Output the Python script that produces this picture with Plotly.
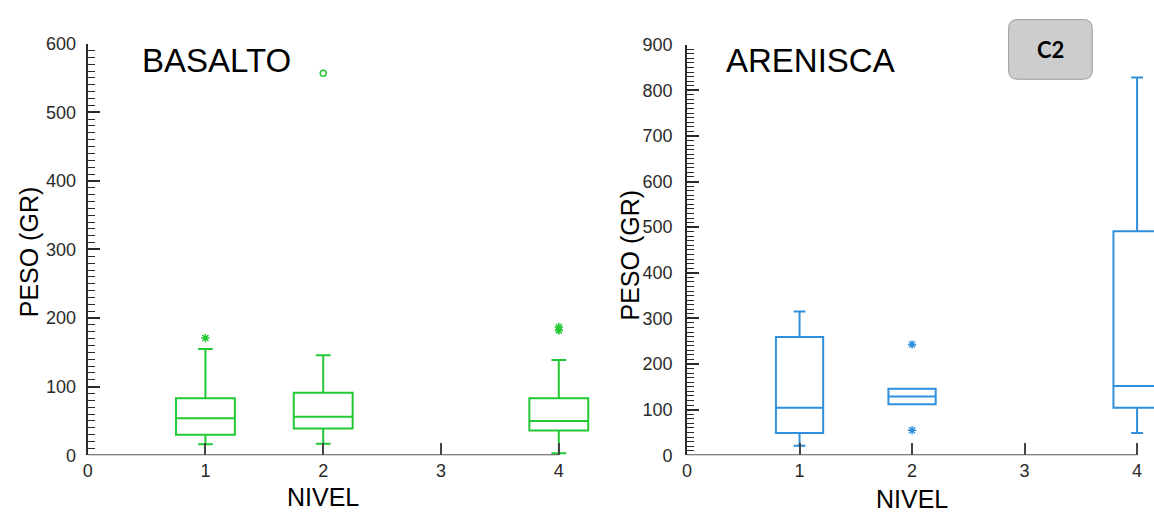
import plotly.graph_objects as go

W, H = 1154, 523

# ---------------- data ----------------
levels = [1, 2, 4]
x_ticks = [0, 1, 2, 3, 4]

bas_q1 = [30, 39, 36]
bas_med = [54, 56, 50]
bas_q3 = [83, 91, 83]
bas_lo = [16, 17, 3]
bas_hi = [155, 146, 139]
bas_out_x = [1, 4, 4]
bas_out_y = [171, 182, 187]
bas_far_x = [2]
bas_far_y = [557]

are_q1 = [49, 112, 104]
are_med = [104, 129, 152]
are_q3 = [259, 146, 491]
are_lo = [21, 112, 49]
are_hi = [315, 146, 828]
are_out_x = [2, 2]
are_out_y = [243, 55]

GREEN = "#22c935"
BLUE = "#2f8fdc"
AX = "#2a2a2a"
FONT = "Liberation Sans"


def fx(p):
    return p / W


def fy(p):
    return 1 - p / H


fig = go.Figure()

fig.add_trace(go.Box(
    x=levels, q1=bas_q1, median=bas_med, q3=bas_q3,
    lowerfence=bas_lo, upperfence=bas_hi,
    width=0.5, whiskerwidth=0.25, boxpoints=False,
    line=dict(color=GREEN, width=2), fillcolor="rgba(0,0,0,0)",
    xaxis="x", yaxis="y", showlegend=False, hoverinfo="skip"))
fig.add_trace(go.Scatter(
    x=bas_out_x, y=bas_out_y, mode="markers", xaxis="x", yaxis="y",
    marker=dict(symbol="asterisk-open", size=7, color=GREEN,
                line=dict(color=GREEN, width=1.5)), showlegend=False))
fig.add_trace(go.Scatter(
    x=bas_far_x, y=bas_far_y, mode="markers", xaxis="x", yaxis="y",
    marker=dict(symbol="circle-open", size=6, color=GREEN,
                line=dict(color=GREEN, width=1.5)), showlegend=False))

fig.add_trace(go.Box(
    x=levels, q1=are_q1, median=are_med, q3=are_q3,
    lowerfence=are_lo, upperfence=are_hi,
    width=0.42, whiskerwidth=0.25, boxpoints=False,
    line=dict(color=BLUE, width=2), fillcolor="rgba(0,0,0,0)",
    xaxis="x2", yaxis="y2", showlegend=False, hoverinfo="skip"))
fig.add_trace(go.Scatter(
    x=are_out_x, y=are_out_y, mode="markers", xaxis="x2", yaxis="y2",
    marker=dict(symbol="asterisk-open", size=7, color=BLUE,
                line=dict(color=BLUE, width=1.5)), showlegend=False))

xcommon = dict(showline=False, showgrid=False, zeroline=False,
               ticks="inside", ticklen=12, tickwidth=2, tickcolor="#444",
               tickvals=x_ticks, ticktext=[str(t) for t in x_ticks],
               tickfont=dict(family=FONT, size=18, color=AX),
               ticklabelstandoff=3, fixedrange=True)
ycommon = dict(showline=True, linecolor=AX, linewidth=2, showgrid=False,
               zeroline=False, ticks="inside", ticklen=12, tickwidth=1.5,
               tickcolor=AX, dtick=100, tick0=0,
               minor=dict(ticks="inside", ticklen=7, dtick=10,
                          tickcolor=AX, tickwidth=1),
               tickfont=dict(family=FONT, size=18, color=AX),
               fixedrange=True)

L_X0, L_U = 83, 118.3
R_X0, R_U = 685, 113
fig.update_layout(
    width=W, height=H, margin=dict(l=0, r=0, t=0, b=0),
    paper_bgcolor="white", plot_bgcolor="white",
    xaxis=dict(domain=[fx(L_X0), fx(L_X0 + 4.3 * L_U)], range=[0, 4.3],
               anchor="y", **xcommon),
    yaxis=dict(domain=[fy(463), fy(35)], range=[0, 600], anchor="x",
               ticklabelstandoff=6, **ycommon),
    xaxis2=dict(domain=[fx(R_X0), 1.0], range=[0, (W - R_X0) / R_U],
                anchor="y2", **xcommon),
    yaxis2=dict(domain=[fy(463), fy(36)], range=[0, 900], anchor="x2",
                ticklabelstandoff=9, **ycommon),
)

# x-axis base lines (from 0 to the last level tick)
for xr, yr in (("x", "y"), ("x2", "y2")):
    fig.add_shape(type="line", xref=xr, yref=yr, x0=x_ticks[0],
                  x1=x_ticks[-1], y0=0, y1=0,
                  line=dict(color="#555555", width=2))

# C2 rounded badge
bx0, by0, bx1, by1, r = 1008, 10, 1092, 72, 9
p = (f"M {fx(bx0 + r)} {fy(by0)} L {fx(bx1 - r)} {fy(by0)} "
     f"Q {fx(bx1)} {fy(by0)} {fx(bx1)} {fy(by0 + r)} "
     f"L {fx(bx1)} {fy(by1 - r)} Q {fx(bx1)} {fy(by1)} {fx(bx1 - r)} {fy(by1)} "
     f"L {fx(bx0 + r)} {fy(by1)} Q {fx(bx0)} {fy(by1)} {fx(bx0)} {fy(by1 - r)} "
     f"L {fx(bx0)} {fy(by0 + r)} Q {fx(bx0)} {fy(by0)} {fx(bx0 + r)} {fy(by0)} Z")
fig.add_shape(type="path", xref="paper", yref="paper", path=p,
              fillcolor="#cdcdcd", line=dict(color="#9a9a9a", width=1))

ann = [
    dict(text="BASALTO", x=fx(136), y=fy(53), xanchor="left", yanchor="middle",
         font=dict(family=FONT, size=33, color="black")),
    dict(text="ARENISCA", x=fx(722), y=fy(53), xanchor="left", yanchor="middle",
         font=dict(family=FONT, size=33, color="black")),
    dict(text="PESO (GR)", x=fx(25), y=fy(251), xanchor="center",
         yanchor="middle", textangle=-90,
         font=dict(family=FONT, size=25, color="black")),
    dict(text="PESO (GR)", x=fx(628), y=fy(255), xanchor="center",
         yanchor="middle", textangle=-90,
         font=dict(family=FONT, size=25, color="black")),
    dict(text="NIVEL", x=fx(L_X0 + 2 * L_U), y=fy(506), xanchor="center",
         yanchor="middle", font=dict(family=FONT, size=25, color="black")),
    dict(text="NIVEL", x=fx(R_X0 + 2 * R_U), y=fy(508), xanchor="center",
         yanchor="middle", font=dict(family=FONT, size=25, color="black")),
    dict(text="<b>C2</b>", x=fx((bx0 + bx1) / 2), y=fy((by0 + by1) / 2),
         xanchor="center", yanchor="middle",
         font=dict(family="Lato", size=22, color="black")),
]
for a in ann:
    a.update(xref="paper", yref="paper", showarrow=False)
    fig.add_annotation(**a)

fig.write_html("out.html")
